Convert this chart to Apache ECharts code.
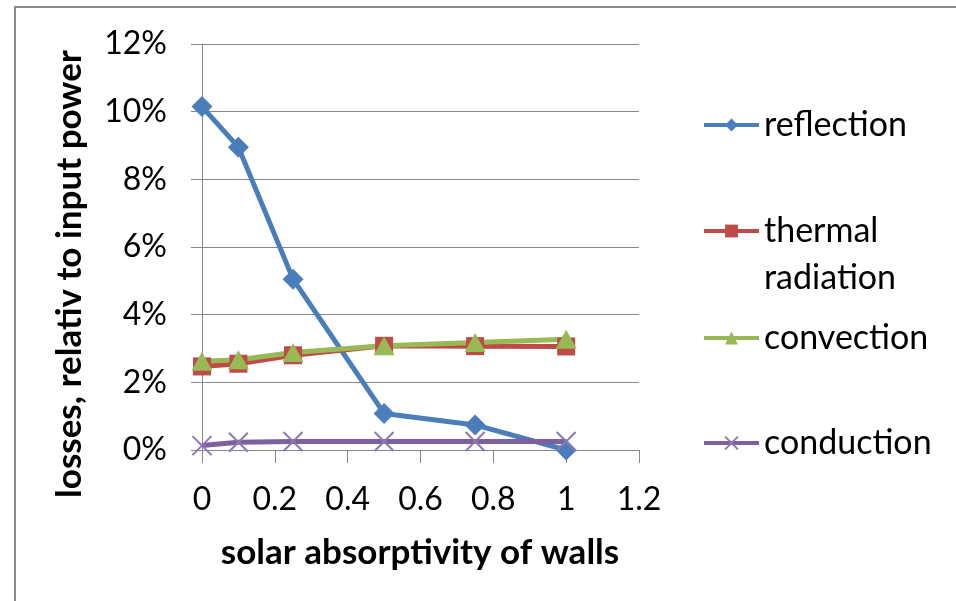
<!DOCTYPE html>
<html>
<head>
<meta charset="utf-8">
<script src="https://cdn.jsdelivr.net/npm/echarts@6/dist/echarts.min.js"></script>
<style>html,body{margin:0;padding:0;background:#fff}#c{width:956px;height:601px}</style>
</head>
<body>
<div id="c"></div>
<script>
const xValues = [0, 0.1, 0.25, 0.5, 0.75, 1];
const reflection = [10.15, 8.95, 5.05, 1.08, 0.74, 0.0];
const thermal = [2.47, 2.55, 2.8, 3.08, 3.07, 3.06];
const convection = [2.62, 2.67, 2.88, 3.08, 3.18, 3.27];
const conduction = [0.13, 0.23, 0.25, 0.25, 0.25, 0.25];
const seriesNames = ['reflection', 'thermal radiation', 'convection', 'conduction'];
const xTitle = 'solar absorptivity of walls';
const yTitle = 'losses, relativ to input power';

const FONT = 'Lato';
const pairs = arr => xValues.map((x, i) => [x, arr[i]]);
const chart = echarts.init(document.getElementById('c'));
const lg = (name, top, lh) => ({
  data: [name], orient: 'vertical', left: 702, top: top, padding: 0,
  itemWidth: 55, itemHeight: 16, selectedMode: false,
  lineStyle: {width: 4},
  formatter: n => n === 'thermal radiation' ? ' \nthermal\nradiation' : n,
  textStyle: {fontFamily: FONT, fontSize: 34, color: '#000', lineHeight: lh || 40}
});
chart.setOption({
  animation: false,
  grid: {left: 202, right: 317, top: 44, bottom: 151},
  xAxis: {
    type: 'value', min: 0, max: 1.2, interval: 0.2,
    axisLine: {lineStyle: {color: '#868686', width: 1}},
    axisTick: {show: true, length: 13, lineStyle: {color: '#868686'}},
    splitLine: {show: false},
    axisLabel: {fontFamily: FONT, fontSize: 32, color: '#000', margin: 34}
  },
  yAxis: {
    type: 'value', min: 0, max: 12, interval: 2,
    axisLine: {show: true, lineStyle: {color: '#868686', width: 1}},
    axisTick: {show: true, length: 11, lineStyle: {color: '#868686'}},
    splitLine: {show: true, lineStyle: {color: '#868686', width: 1}},
    axisLabel: {fontFamily: FONT, fontSize: 32, color: '#000', margin: 35, formatter: '{value}%'}
  },
  legend: [
    lg('reflection', 105),
    lg('thermal radiation', 160.5, 47),
    lg('convection', 318),
    lg('conduction', 423)
  ],
  graphic: [
    {type: 'line', shape: {x1: 15, y1: 7, x2: 15, y2: 601}, style: {stroke: '#8a8a8a', lineWidth: 2}},
    {type: 'line', shape: {x1: 14, y1: 7, x2: 956, y2: 7}, style: {stroke: '#8a8a8a', lineWidth: 2}},
    {type: 'text', x: 420, y: 553, style: {text: xTitle, font: 'bold 35px ' + FONT, fill: '#000', textAlign: 'center', textVerticalAlign: 'middle'}},
    {type: 'text', x: 70, y: 274, rotation: Math.PI / 2, style: {text: yTitle, font: 'bold 35px ' + FONT, fill: '#000', textAlign: 'center', textVerticalAlign: 'middle'}}
  ],
  series: [
    {name: seriesNames[0], type: 'line', data: pairs(reflection), symbol: 'diamond', symbolSize: [21, 21],
     lineStyle: {color: '#4A7EBB', width: 5}, itemStyle: {color: '#4A7EBB'}},
    {name: seriesNames[1], type: 'line', data: pairs(thermal), symbol: 'rect', symbolSize: 18,
     lineStyle: {color: '#BE4B48', width: 5}, itemStyle: {color: '#BE4B48'}},
    {name: seriesNames[2], type: 'line', data: pairs(convection), symbol: 'triangle', symbolSize: [21, 19],
     lineStyle: {color: '#98B954', width: 5}, itemStyle: {color: '#98B954'}},
    {name: seriesNames[3], type: 'line', data: pairs(conduction), symbol: 'path://M0,0L10,10M10,0L0,10', symbolSize: 19,
     lineStyle: {color: '#7D60A0', width: 5}, itemStyle: {color: 'rgba(0,0,0,0)', borderColor: '#8e78b0', borderWidth: 2}}
  ]
});
</script>
</body>
</html>
